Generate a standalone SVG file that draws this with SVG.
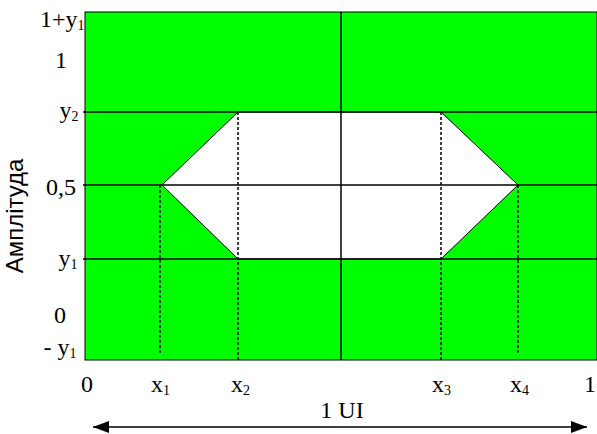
<svg xmlns="http://www.w3.org/2000/svg" width="597" height="434" viewBox="0 0 597 434">
<defs>
<style>
text.lbl{font-family:'Liberation Serif','Times New Roman',serif;font-size:24px;fill:#000}
tspan.sub{font-size:14px}
text.ax{font-family:'Liberation Sans',Arial,sans-serif;font-size:24px;fill:#000}
.grid{stroke:#000;stroke-width:1.5;fill:none}
.dash{stroke:#000;stroke-width:1.5;stroke-dasharray:3,2;fill:none}
</style>
<marker id="ah" viewBox="0 0 16 12" refX="16" refY="6" markerWidth="16" markerHeight="12" markerUnits="userSpaceOnUse" orient="auto-start-reverse">
<path d="M0,0 L16,6 L0,12 z" fill="#000"/>
</marker>
</defs>
<g id="plot">
<rect x="85" y="12" width="512" height="348" fill="#00ff00" stroke="#000" stroke-width="1"/>
<polygon points="162,185 238,112 441,112 518,185 441,259 238,259" fill="#fff" stroke="#000" stroke-width="1"/>
</g>
<g id="connectors">
<line class="grid" x1="83" y1="112" x2="597" y2="112"/>
<line class="grid" x1="83" y1="185" x2="597" y2="185"/>
<line class="grid" x1="83" y1="259" x2="597" y2="259"/>
<line class="grid" x1="341" y1="12" x2="341" y2="360"/>
<line class="dash" x1="160" y1="185" x2="160" y2="355"/>
<line class="dash" x1="238" y1="112" x2="238" y2="360"/>
<line class="dash" x1="441" y1="112" x2="441" y2="360"/>
<line class="dash" x1="518" y1="185" x2="518" y2="355"/>
<line x1="93" y1="427" x2="587" y2="427" stroke="#000" stroke-width="1.5" marker-start="url(#ah)" marker-end="url(#ah)"/>
</g>
<g id="ylabels">
<text class="lbl" x="84.5" y="27" text-anchor="end">1+y<tspan class="sub" dy="3">1</tspan></text>
<text class="lbl" x="67" y="68" text-anchor="end">1</text>
<text class="lbl" x="78.5" y="118" text-anchor="end">y<tspan class="sub" dy="3">2</tspan></text>
<text class="lbl" x="76" y="195" text-anchor="end">0,5</text>
<text class="lbl" x="77.5" y="266" text-anchor="end">y<tspan class="sub" dy="3">1</tspan></text>
<text class="lbl" x="66" y="323" text-anchor="end">0</text>
<text class="lbl" x="76.5" y="355" text-anchor="end">- y<tspan class="sub" dy="3">1</tspan></text>
</g>
<g id="xlabels">
<text class="lbl" x="81" y="392">0</text>
<text class="lbl" x="151" y="392">x<tspan class="sub" dy="3">1</tspan></text>
<text class="lbl" x="231" y="392">x<tspan class="sub" dy="3">2</tspan></text>
<text class="lbl" x="432" y="392">x<tspan class="sub" dy="3">3</tspan></text>
<text class="lbl" x="510" y="392">x<tspan class="sub" dy="3">4</tspan></text>
<text class="lbl" x="584" y="392">1</text>
<text class="lbl" x="342" y="418" text-anchor="middle">1 UI</text>
</g>
<g id="axis-title">
<text class="ax" transform="translate(23,216) rotate(-90)" text-anchor="middle">Амплітуда</text>
</g>
</svg>
